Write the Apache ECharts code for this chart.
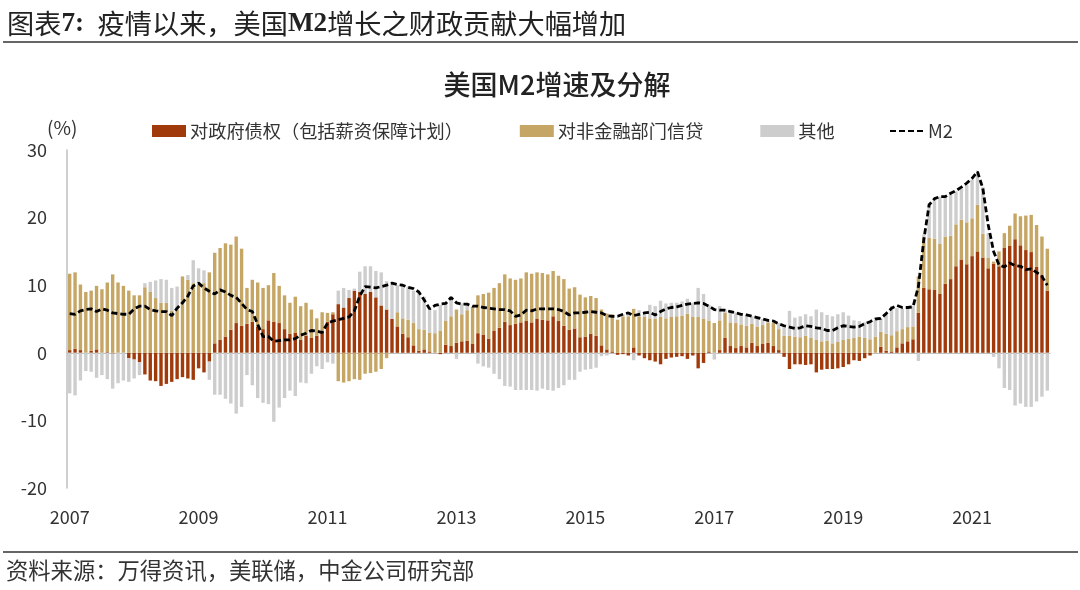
<!DOCTYPE html>
<html>
<head>
<meta charset="utf-8">
<style>html,body{margin:0;padding:0;background:#fff}#main{width:1080px;height:590px}</style>
<script src="https://cdn.jsdelivr.net/npm/echarts@6/dist/echarts.min.js"></script>
</head>
<body>
<div id="main"></div>
<script>
var sansFont = '"Noto Sans CJK SC"';
var serifFont = '"Liberation Serif","Noto Sans CJK SC"';

var seriesNames = ['对政府债权（包括薪资保障计划）', '对非金融部门信贷', '其他', 'M2'];

// 月度数据，2007-01 至 2022-03
var months = [];
for (var y = 2007; y <= 2022; y++) {
	for (var m = 1; m <= 12; m++) {
		if (y == 2022 && m > 3) break;
		months.push(y + '-' + (m < 10 ? '0' + m : m));
	}
}

var govClaims = [
	0.4,0.6,0.4,0,0.3,0.5,0,0.1,-0.1,0,
	0,-0.8,-1.0,-1.4,-3.2,-4.1,-4.2,-4.9,-4.6,-4.3,
	-3.9,-3.6,-3.8,-4.0,-2.3,-2.9,-1.3,1.4,1.9,2.4,
	3.4,4.4,4.0,4.3,4.6,3.9,3.5,4.8,4.6,4.4,
	3.5,2.8,3.0,1.9,2.5,2.2,2.5,3.2,4.6,5.7,
	7.2,6.7,8.1,9.2,9.0,8.7,9.0,8.2,7.0,6.4,
	5.0,3.9,2.8,2.3,1.1,0.3,0.5,0.2,0,-0.2,
	1.2,1.0,1.5,1.7,1.8,1.3,2.9,2.7,2.1,3.3,
	3.7,4.6,4.1,4.3,4.5,4.7,4.5,5.0,4.9,4.8,
	5.4,4.7,4.0,3.4,3.6,2.3,2.4,2.8,2.5,1.1,
	0.5,0.2,-0.3,-0.2,-0.4,0.8,-0.4,-0.8,-1.1,-1.3,
	-1.7,-0.9,-0.7,-0.6,-0.5,-0.9,-0.4,-2.3,-1.5,0.2,
	0,0.4,2.2,1.0,0.7,1.0,0.8,1.5,1.0,1.3,
	1.5,1.0,0.4,-0.6,-2.4,-1.7,-1.7,-1.8,-1.7,-2.9,
	-2.5,-2.4,-2.4,-2.3,-2.1,-1.7,-1.1,-1.2,-0.8,-0.4,
	0,0.9,0.3,0.2,0.8,1.4,1.7,2.0,5.9,9.6,
	9.4,9.3,8.7,10.2,10.9,12.8,13.8,13.1,14.3,15.0,
	14.1,12.5,13.2,12.8,15.5,15.8,16.8,15.9,15.2,14.9,
	12.7,11.5,9.2
];
var nonFinCredit = [
	11.3,11.3,9.7,9.0,8.9,9.4,9.4,10.3,11.6,10.4,
	9.9,9.2,8.5,8.5,9.7,9.0,8.1,7.4,7.4,6.2,
	6.4,11.3,10.8,10.3,10.1,10.3,11.9,13.4,13.6,13.8,
	12.6,12.8,11.4,5.3,6.2,6.5,6.1,5.2,7.2,5.5,
	5.0,4.6,5.3,5.0,4.9,4.2,2.6,2.8,1.3,0.3,
	-4.2,-4.4,-4.2,-3.9,-4.0,-3.1,-3.0,-2.8,-2.4,-0.8,
	0,2.1,2.3,2.6,3.3,3.2,2.9,2.8,2.9,3.3,
	3.5,4.4,4.9,4.0,4.5,5.5,5.6,6.0,6.8,6.3,
	6.6,7.0,6.9,6.5,6.5,7.2,7.2,6.9,6.9,6.8,
	6.7,6.7,6.9,6.1,6.1,6.3,5.8,5.6,5.6,5.3,
	5.3,5.5,4.9,5.4,5.4,5.7,5.4,5.3,5.1,5.0,
	5.3,5.1,5.3,5.4,5.5,5.8,5.3,5.3,5.0,4.5,
	4.4,4.4,3.7,3.5,3.7,3.2,3.2,2.8,2.9,2.8,
	3.0,3.4,3.1,2.5,2.5,2.4,2.3,2.5,2.2,1.9,
	1.7,1.8,1.4,1.6,1.9,2.1,2.2,2.4,2.2,2.0,
	2.4,2.2,2.5,2.4,2.4,2.1,2.1,1.9,5.4,7.4,
	7.6,7.6,7.4,7.0,6.4,6.2,5.9,6.2,5.6,6.9,
	3.5,1.6,0.3,2.2,2.2,3.0,3.8,4.3,5.1,5.5,
	6.2,5.7,6.2
];
var others = [
	-6.0,-6.3,-4.1,-2.7,-2.8,-3.7,-3.3,-3.9,-5.2,-4.5,
	-4.1,-3.5,-2.8,-1.9,0.6,1.5,2.6,3.5,3.4,3.4,
	3.4,0,0.7,3.4,2.4,1.9,-2.7,-6.2,-6.2,-6.8,
	-7.5,-9.0,-8.0,-3.3,-4.8,-6.7,-7.4,-7.6,-10.2,-8.1,
	-6.7,-5.6,-6.4,-4.4,-4.5,-3.1,-2.0,-2.4,-1.4,-1.6,
	2.0,2.9,1.2,0.3,3.0,4.1,3.8,3.9,4.9,4.2,
	5.3,4.0,4.9,4.9,4.8,5.4,4.9,3.8,3.4,3.8,
	2.6,2.9,-0.9,1.6,1.0,0,-1.6,-2.0,-2.2,-3.1,
	-3.9,-4.9,-5.0,-5.5,-5.5,-5.5,-5.5,-5.6,-5.3,-5.5,
	-5.6,-5.2,-4.8,-4.0,-4.0,-2.8,-2.5,-2.4,-2.2,-0.5,
	-0.4,0,0,0.3,0.3,-1.1,0.9,0.4,2.0,1.9,
	2.4,2.2,2.1,2.0,2.1,2.2,2.1,4.3,3.7,2.4,
	-1.0,2.1,0.5,1.6,1.6,1.6,1.6,1.1,1.2,0.9,
	0.3,0,0.9,1.5,3.7,2.8,3.1,3.2,3.2,4.5,
	4.3,3.8,4.0,4.1,4.1,3.4,2.6,2.3,2.3,2.4,
	2.5,2.0,2.9,4.3,3.4,3.0,2.9,3.0,-1.2,0.5,
	5.1,5.8,7.0,6.1,6.2,4.9,4.6,5.5,5.7,4.7,
	6.9,3.6,-0.6,-2.3,-5.2,-5.5,-7.8,-7.5,-8.0,-8.0,
	-7.2,-6.5,-5.6
];
var m2Growth = [
	5.8,5.7,6.2,6.4,6.5,6.1,6.5,6.3,5.9,5.8,
	5.7,5.7,6.5,6.9,6.9,6.4,6.2,6.1,6.1,5.5,
	6.6,7.4,8.4,9.9,10.3,9.6,9.1,8.7,9.3,9.0,
	8.5,8.2,7.3,6.4,6.1,4.2,2.4,2.4,1.7,1.8,
	1.9,1.9,2.1,2.6,2.9,3.3,3.2,3.0,4.4,4.7,
	4.9,5.1,5.3,6.2,8.4,9.8,9.7,9.6,9.8,10.0,
	10.3,10.1,10.0,9.7,9.5,9.0,7.8,6.5,7.0,7.2,
	7.3,8.2,7.4,7.2,7.2,6.9,6.9,6.7,6.6,6.5,
	6.4,6.4,6.2,5.4,5.6,6.3,6.2,6.5,6.5,6.5,
	6.5,6.4,6.1,5.6,5.9,5.9,6.0,6.1,6.0,5.9,
	5.5,5.4,5.4,5.7,5.9,5.5,5.7,5.9,6.0,5.6,
	6.1,6.5,6.7,6.8,7.0,7.2,7.3,7.4,7.3,6.9,
	6.4,6.3,6.3,6.1,5.9,5.7,5.6,5.4,5.2,5.0,
	4.8,4.7,4.3,4.0,3.8,3.6,3.7,4.0,3.9,3.7,
	3.6,3.3,3.3,3.7,4.0,3.9,3.8,3.9,4.3,4.6,
	5.0,5.1,5.8,6.6,7.0,6.7,6.7,6.8,9.8,16.7,
	21.9,22.8,23.1,23.1,23.6,24.0,24.5,25.1,25.8,26.8,
	24.3,18.9,15.0,13.0,12.7,13.3,12.9,12.8,12.3,12.4,
	11.9,11.3,10.0
];

function barSeries(name, data, color) {
	return {
		name: name,
		type: 'bar',
		stack: 'm2',
		barWidth: 3.4,
		data: data,
		itemStyle: { color: color }
	};
}

function legendAt(left, items) {
	return {
		left: left,
		top: 117,
		itemWidth: 34,
		itemHeight: 12,
		itemGap: 57,
		textStyle: { fontFamily: sansFont, fontSize: 18.2, color: '#333', padding: [0, 0, 0, -1] },
		data: items
	};
}

var myChart = echarts.init(document.getElementById('main'));

var option = {
	backgroundColor: '#fff',
	animation: false,
	title: [{
		left: 2,
		top: 5,
		text: '{a|图表}{b|7:  }{a|疫情以来，美国}{b|M2}{a|增长之财政贡献大幅增加}',
		textStyle: {
			rich: {
				a: { fontFamily: sansFont, fontSize: 27.2, fontWeight: 'normal', color: '#222' },
				b: { fontFamily: serifFont, fontSize: 27.2, fontWeight: 'bold', color: '#222' }
			}
		}
	}, {
		left: 552,
		top: 66,
		textAlign: 'center',
		text: '美国M2增速及分解',
		textStyle: { fontFamily: sansFont, fontSize: 27, fontWeight: 500, color: '#222' }
	}, {
		left: 1,
		top: 554,
		text: '资料来源：万得资讯，美联储，中金公司研究部',
		textStyle: { fontFamily: sansFont, fontSize: 22.3, fontWeight: 'normal', color: '#333' }
	}, {
		left: 42,
		top: 113,
		text: '(%)',
		textStyle: { fontFamily: sansFont, fontSize: 19, fontWeight: 'normal', color: '#333' }
	}],
	legend: [
		legendAt(147, [{ name: seriesNames[0], icon: 'rect' }, { name: seriesNames[1], icon: 'rect' }, { name: seriesNames[2], icon: 'rect' }]),
		legendAt(884, [{ name: seriesNames[3], itemStyle: { opacity: 0 }, lineStyle: { opacity: 1 } }])
	],
	grid: { left: 67, top: 150, width: 983, height: 338 },
	xAxis: [{
		type: 'category',
		data: months,
		position: 'bottom',
		axisLine: { show: false, onZero: false },
		axisTick: { show: false },
		axisLabel: {
			interval: 23,
			margin: 20,
			fontFamily: sansFont,
			fontSize: 18,
			color: '#333',
			formatter: function(v) { return v.slice(0, 4); }
		}
	}, {
		// 零轴线
		type: 'category',
		data: months,
		axisLine: { show: true, onZero: true, lineStyle: { color: '#bfbfbf', width: 1 } },
		axisTick: { show: false },
		axisLabel: { show: false }
	}],
	yAxis: {
		type: 'value',
		min: -20,
		max: 30,
		interval: 10,
		splitLine: { show: false },
		axisTick: { show: false },
		axisLine: { show: true, lineStyle: { color: '#bfbfbf', width: 1.5 } },
		axisLabel: { margin: 20, fontFamily: sansFont, fontSize: 18, color: '#333' }
	},
	series: [
		barSeries(seriesNames[0], govClaims, '#A03A0A'),
		barSeries(seriesNames[1], nonFinCredit, '#C6A665'),
		barSeries(seriesNames[2], others, '#CDCDCD'),
		{
			name: seriesNames[3],
			type: 'line',
			data: m2Growth,
			symbol: 'none',
			z: 5,
			itemStyle: { color: '#000' },
			lineStyle: { color: '#000', width: 2.8, type: [6, 3] }
		}
	],
	graphic: [
		{ type: 'line', shape: { x1: 3, y1: 42, x2: 1078, y2: 42 }, style: { stroke: '#333', lineWidth: 1.5 } },
		{ type: 'line', shape: { x1: 3, y1: 552, x2: 1078, y2: 552 }, style: { stroke: '#333', lineWidth: 1.5 } }
	]
};
myChart.setOption(option);
</script>
</body>
</html>
